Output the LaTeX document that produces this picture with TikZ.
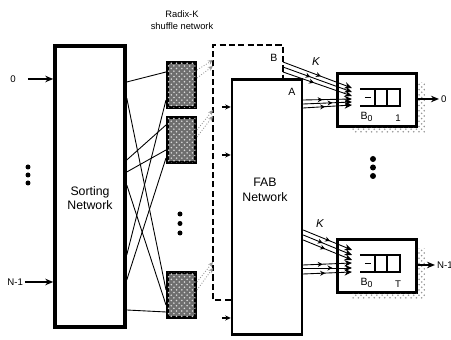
\documentclass[tikz,border=0pt]{standalone}
\usepackage{fontspec}
\setsansfont{Liberation Sans}
\usetikzlibrary{arrows.meta, positioning, calc, patterns, decorations.markings}
\definecolor{swgray}{RGB}{110,110,110}
\definecolor{dotgray}{RGB}{150,150,150}
\tikzset{
    netblock/.style={rectangle, draw=black, line width=#1, minimum width=1.4cm, inner sep=0pt},
    swblock/.style={rectangle, draw=black, line width=1.7pt, fill=swgray, postaction={pattern=crosshatch dots, pattern color=white!85!black}, minimum width=0.56cm, minimum height=0.9cm, inner sep=0pt},
    outblock/.style={rectangle, draw=black, line width=1.5pt, fill=white, minimum width=1.58cm, minimum height=1.06cm, inner sep=0pt},
    netlabel/.style={font=\sffamily\fontsize{7}{8.4}\selectfont, align=center, inner sep=0pt},
    smlabel/.style={font=\sffamily\fontsize{5.5}{6.5}\selectfont, inner sep=1pt},
    toplabel/.style={font=\sffamily\fontsize{5.3}{6.8}\selectfont, align=center, inner sep=0pt},
    inarrow/.style={-{Stealth[length=1.6mm, width=1.3mm]}, line width=1.2pt},
    wire/.style={line width=0.5pt},
    dotwire/.style={dotgray, densely dotted, line width=0.5pt, -{Stealth[length=1mm, width=0.9mm]}},
    tickarrow/.style={-{Stealth[length=1.1mm, width=1mm]}, line width=0.6pt},
    karrow/.style={line width=0.5pt, -{Stealth[length=1.5mm, width=1.3mm]}},
    midmark/.style={postaction={decorate}, decoration={markings, mark=at position #1 with {\arrow{Stealth[length=1mm, width=1mm]}}}},
    dotmark/.style={circle, fill=black, inner sep=0pt, minimum size=#1},
    shadowband/.style={pattern=crosshatch dots, pattern color=dotgray, draw=none}
}

\begin{document}
\begin{tikzpicture}[x=0.02cm, y=-0.02cm]
\useasboundingbox (0,0) rectangle (451,340);

\node[toplabel] (title) at (182,20) {Radix-K\\shuffle network};

\node[netblock=2pt, minimum height=5.62cm] (sort) at (90,186.5) {};
\node[netlabel] (sortlbl) at (90,198) {Sorting\\Network};

\node[smlabel] (in0) at (13,79) {0};
\coordinate (in0s) at (28,79);
\draw[inarrow] (in0s) -- (sort.west |- in0);
\node[smlabel, anchor=east] (inN) at (25,282) {N-1};
\draw[inarrow] (inN.east) -- (sort.west |- inN);
\foreach \y in {167,175,183}
    \node[dotmark=0.1cm] (ldot\y) at (28,\y) {};

\node[swblock] (sw1) at (181.5,85) {};
\node[swblock] (sw2) at (181.5,140) {};
\node[swblock] (sw3) at (181.5,295) {};
\foreach \y in {214,223.5,233}
    \node[dotmark=0.1cm] (mdot\y) at (180,\y) {};

\foreach \ya/\sw/\yb in {82/sw1/72, 98/sw3/290, 160/sw2/125, 172/sw2/150, 255/sw1/100, 185/sw3/305, 280/sw2/158, 310/sw3/312}
    \draw[wire] (sort.east |- 0,\ya) -- (\sw.west |- 0,\yb);

\node[netblock=1.4pt, minimum height=5.1cm] (fab) at (267,207) {};
\node[netlabel] (fablbl) at (265,190) {FAB\\Network};

\coordinate (dtl) at (213,45);
\coordinate (dtr) at (283,45);
\coordinate (dbl) at (213,300);
\draw[line width=1.3pt, dash pattern=on 3.5pt off 1.8pt] (fab.west |- dbl) -- (dbl) -- (dtl) -- (dtr) -- (dtr |- fab.north);

\foreach \sw/\ya/\yb in {sw1/70/60, sw1/78/66, sw2/130/110, sw2/137/116, sw3/290/268, sw3/282/262}
    \draw[dotwire] (\sw.east |- 0,\ya) -- (dtl |- 0,\yb);
\foreach \y in {107,155,318}
    \draw[tickarrow] ([xshift=-5pt]fab.west |- 0,\y) -- (fab.west |- 0,\y);

\node[smlabel, font=\sffamily\fontsize{6}{7}\selectfont] (blbl) at (274,58) {B};
\node[smlabel, font=\sffamily\fontsize{6}{7}\selectfont] (albl) at (292,92) {A};

\node[outblock] (ob1) at (377,100) {};
\node[outblock] (obN) at (377,266) {};
\foreach \ob/\idx in {ob1/1, obN/T} {
    \path[shadowband] ($(\ob.north east)+(0,10)$) rectangle ($(\ob.south east)+(7,5)$);
    \path[shadowband] ($(\ob.south west)+(16,0)$) rectangle ($(\ob.south east)+(0,5)$);
    \draw[line width=0.8pt] ($(\ob)+(-17,-11)$) -- ++(40,0) -- ++(0,17) -- ++(-40,0);
    \draw[line width=0.8pt] ($(\ob)+(-2,-11)$) -- ++(0,17);
    \draw[line width=0.8pt] ($(\ob)+(10,-11)$) -- ++(0,17);
    \draw[line width=1pt] ($(\ob)+(-12,-2.5)$) -- ++(6,0);
    \node[smlabel, font=\sffamily\fontsize{6}{7}\selectfont] (\ob-b) at ($(\ob)+(-10,17)$) {B\textsubscript{0}};
    \node[smlabel] (\ob-i) at ($(\ob)+(21,18)$) {\idx};
}

\node[smlabel, anchor=west] (out0) at (439,99) {0};
\draw[inarrow] (ob1.east |- out0) -- (out0.west);
\node[smlabel, anchor=west] (outN) at (435,265) {N-1};
\draw[inarrow] (obN.east |- outN) -- (outN.west);

\node[smlabel, font=\sffamily\itshape\fontsize{6.5}{7}\selectfont] (k1) at (316,62) {K};
\node[smlabel, font=\sffamily\itshape\fontsize{6.5}{7}\selectfont] (kN) at (320,224) {K};

\foreach \ya/\dy/\mm in {62/-12/0.55, 67/-8/0.4, 72/-4/0.45}
    \draw[karrow, midmark=\mm] (dtr |- 0,\ya) -- ($(ob1)+(-25,\dy)$);
\foreach \ya/\dy/\mm in {100/-1/0.4, 104/2/0.6, 108/5/0.45}
    \draw[karrow, midmark=\mm] (fab.east |- 0,\ya) -- ($(ob1)+(-25,\dy)$);
\foreach \ya/\dy/\mm in {230/-16/0.55, 235/-11/0.4, 240/-6/0.45}
    \draw[karrow, midmark=\mm] (fab.east |- 0,\ya) -- ($(obN)+(-25,\dy)$);
\foreach \ya/\dy/\mm in {265/-3/0.4, 268/2/0.6, 274/6/0.45}
    \draw[karrow, midmark=\mm] (fab.east |- 0,\ya) -- ($(obN)+(-25,\dy)$);

\foreach \y in {159,167.5,176}
    \node[dotmark=0.12cm] (rdot\y) at (373,\y) {};

\end{tikzpicture}
\end{document}
